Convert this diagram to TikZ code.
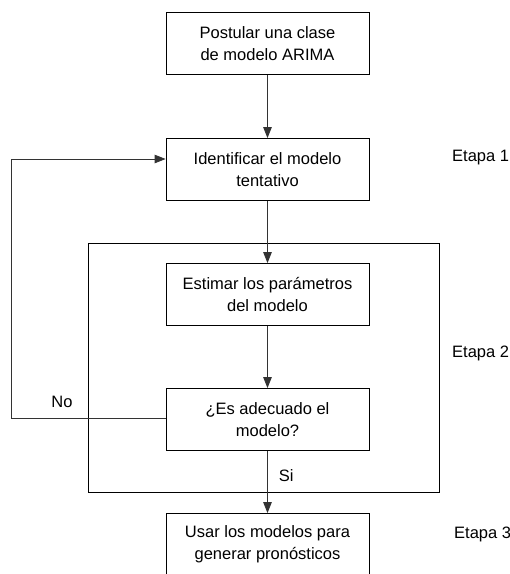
\documentclass[tikz,border=0pt]{standalone}
\usepackage{fontspec}
\setmainfont{Liberation Sans}
\usetikzlibrary{arrows.meta}
\tikzset{
  paso/.style={draw, line width=0.8pt, minimum width=203pt, minimum height=62pt,
    align=center, inner sep=0pt, font=\fontsize{16.5}{22}\selectfont},
  etiqueta/.style={font=\fontsize{16.5}{22}\selectfont, inner sep=0pt},
  flecha/.style={line width=0.8pt, draw=black!80, -{Triangle[length=11pt,width=8.5pt]}}
}
\begin{document}
\begin{tikzpicture}[x=1pt,y=-1pt]
\useasboundingbox (0,0) rectangle (510,574);
\draw[line width=0.8pt] (88,243) rectangle (439,492);
\node[paso] (postular) at (267.5,43.5) {Postular una clase\\de modelo ARIMA};
\node[paso] (identificar) at (267.5,169.5) {Identificar el modelo\\tentativo};
\node[paso] (estimar) at (267.5,294.5) {Estimar los parámetros\\del modelo};
\node[paso] (adecuado) at (267.5,419.5) {¿Es adecuado el\\modelo?};
\node[paso] (usar) at (267.5,544.5) {Usar los modelos para\\generar pronósticos};
\node[etiqueta, anchor=west] (etapa1) at (452,158) {Etapa 1};
\node[etiqueta, anchor=west] (etapa2) at (452,353) {Etapa 2};
\node[etiqueta, anchor=west] (etapa3) at (454,534) {Etapa 3};
\coordinate (vuelta) at (11,418);
\coordinate (entrada) at ([yshift=10.5pt]identificar.west);
\draw[flecha] (postular) -- (identificar);
\draw[flecha] (identificar) -- (estimar);
\draw[flecha] (estimar) -- (adecuado);
\draw[flecha] (adecuado) -- node[etiqueta, pos=0.4, right=11pt] (si) {Si} (usar);
\draw[flecha] (adecuado.west |- vuelta) -- (vuelta) |- (entrada);
\node[etiqueta] (no) at (62,402) {No};
\end{tikzpicture}
\end{document}
